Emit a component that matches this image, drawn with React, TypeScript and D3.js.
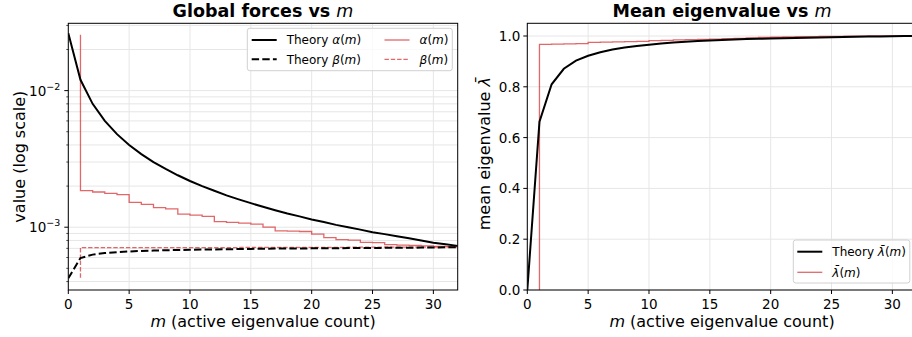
import * as d3 from "d3";
import { useEffect, useRef } from "react";

// theory curves, sampled at integer m = 0..32
const mTheory = d3.range(0, 33);
const alphaTheory = [
	0.0263, 0.012, 0.008, 0.006, 0.0048, 0.004, 0.00343, 0.003, 0.00267, 0.0024,
	0.00218, 0.002, 0.00185, 0.00171, 0.0016, 0.0015, 0.00141, 0.00133, 0.00126,
	0.0012, 0.00114, 0.00109, 0.00104, 0.001, 0.00096, 0.00092, 0.00089, 0.00086,
	0.00083, 0.0008, 0.00077, 0.00075, 0.00073,
];
const betaTheory = [
	0.000423, 0.000595, 0.00063, 0.000647, 0.000657, 0.000664, 0.00067, 0.000674,
	0.000678, 0.000681, 0.000684, 0.000686, 0.000688, 0.00069, 0.000692, 0.000694,
	0.000695, 0.000697, 0.000698, 0.000699, 0.0007, 0.000701, 0.000702, 0.000703,
	0.000704, 0.000705, 0.000706, 0.000707, 0.000708, 0.000709, 0.00071, 0.000712,
	0.000715,
];
const lambdaTheory = [
	0, 0.663, 0.81, 0.871, 0.903, 0.922, 0.936, 0.947, 0.955, 0.961, 0.966, 0.97,
	0.974, 0.977, 0.98, 0.982, 0.984, 0.986, 0.988, 0.989, 0.99, 0.991, 0.992,
	0.993, 0.994, 0.995, 0.996, 0.997, 0.998, 0.998, 0.999, 1.0, 1.0,
];

// measured (step) curves, m = 1..32, each starting with a jump at m = 1
const mEmp = d3.range(1, 33);
const alphaEmpStart = 0.0256;
const alphaEmp = [
	0.00185, 0.00181, 0.00177, 0.00173, 0.00152, 0.00147, 0.00139, 0.00136,
	0.001245, 0.001225, 0.0012, 0.0011, 0.001085, 0.00107, 0.001055, 0.001,
	0.00094, 0.000935, 0.00093, 0.000889, 0.00084, 0.00081, 0.000805, 0.000775,
	0.00077, 0.000745, 0.00074, 0.000735, 0.00073, 0.000725, 0.000722, 0.00072,
];
const betaEmpStart = 0.000427;
const betaEmp = [
	0.00071, 0.00071, 0.00071, 0.00071, 0.00071, 0.00071, 0.00071, 0.00071,
	0.00071, 0.00071, 0.00071, 0.00071, 0.00071, 0.000711, 0.000711, 0.000711,
	0.000712, 0.000712, 0.000712, 0.000713, 0.000713, 0.000713, 0.000714, 0.000714,
	0.000714, 0.000715, 0.000715, 0.000715, 0.000716, 0.000716, 0.000717, 0.000717,
];
const lambdaEmpStart = 0;
const lambdaEmp = [
	0.967, 0.968, 0.969, 0.97, 0.975, 0.976, 0.977, 0.978, 0.979, 0.982, 0.983,
	0.985, 0.986, 0.987, 0.988, 0.99, 0.991, 0.993, 0.994, 0.995, 0.996, 0.997,
	0.997, 0.998, 0.998, 0.999, 0.999, 1.0, 1.0, 1.0, 1.0, 1.0,
];

const xTicks = [0, 5, 10, 15, 20, 25, 30];
const logMajor = [1e-3, 1e-2];
const logMajorLabels = ["−3", "−2"];
const lambdaTicks = [0, 0.2, 0.4, 0.6, 0.8, 1.0];

const RED = "#d62728";
const FONT = "DejaVu Sans";

type Part = [string, boolean];

function addParts(t: any, parts: Part[]) {
	parts.forEach(([s, it]) => {
		t.append("tspan").attr("font-style", it ? "italic" : "normal").text(s);
	});
}

export default function App() {
	const ref = useRef<SVGSVGElement>(null);

	useEffect(() => {
		if (!ref.current) return;
		const svg = d3.select(ref.current);
		svg.selectAll("*").remove();
		svg.attr("font-family", FONT);

		const panels = [
			{ x0: 68.3, x1: 457.7, y0: 23.3, y1: 290, id: "L" },
			{ x0: 527.3, x1: 916.7, y0: 23.3, y1: 290, id: "R" },
		];

		panels.forEach((p) => {
			svg.append("clipPath").attr("id", "clip" + p.id)
				.append("rect")
				.attr("x", p.x0).attr("y", p.y0)
				.attr("width", p.x1 - p.x0).attr("height", p.y1 - p.y0);
		});

		// ---------- left panel ----------
		const L = panels[0];
		const xL = d3.scaleLinear().domain([0, 32]).range([L.x0, L.x1]);
		const yL = d3.scaleLog().domain([3.47e-4, 0.0311]).range([L.y1, L.y0]);
		const gridColor = "#e6e6e6";

		const gL = svg.append("g");
		const allLogTicks = yL.ticks();
		gL.selectAll(".hgrid").data(allLogTicks).enter().append("line")
			.attr("x1", L.x0).attr("x2", L.x1)
			.attr("y1", (d) => yL(d)).attr("y2", (d) => yL(d))
			.attr("stroke", gridColor).attr("stroke-width", 1);
		gL.selectAll(".vgrid").data(xTicks).enter().append("line")
			.attr("x1", (d) => xL(d)).attr("x2", (d) => xL(d))
			.attr("y1", L.y0).attr("y2", L.y1)
			.attr("stroke", gridColor).attr("stroke-width", 1);

		const plotL = gL.append("g").attr("clip-path", "url(#clipL)");

		const lineTheory = d3.line<[number, number]>()
			.x((d) => xL(d[0])).y((d) => yL(d[1]));
		const lineStep = d3.line<[number, number]>()
			.x((d) => xL(d[0])).y((d) => yL(d[1]))
			.curve(d3.curveStepAfter);

		const alphaEmpPts: [number, number][] = [[1, alphaEmpStart], ...mEmp.map((m, i) => [m, alphaEmp[i]] as [number, number])];
		const betaEmpPts: [number, number][] = [[1, betaEmpStart], ...mEmp.map((m, i) => [m, betaEmp[i]] as [number, number])];

		plotL.append("path").attr("d", lineStep(alphaEmpPts))
			.attr("fill", "none").attr("stroke", RED).attr("stroke-opacity", 0.7)
			.attr("stroke-width", 1.3);
		plotL.append("path").attr("d", lineStep(betaEmpPts))
			.attr("fill", "none").attr("stroke", RED).attr("stroke-opacity", 0.7)
			.attr("stroke-width", 1.3).attr("stroke-dasharray", "4.4,1.9");

		plotL.append("path")
			.attr("d", lineTheory(mTheory.map((m, i) => [m, alphaTheory[i]] as [number, number])))
			.attr("fill", "none").attr("stroke", "#000").attr("stroke-width", 2);
		plotL.append("path")
			.attr("d", lineTheory(mTheory.map((m, i) => [m, betaTheory[i]] as [number, number])))
			.attr("fill", "none").attr("stroke", "#000").attr("stroke-width", 2)
			.attr("stroke-dasharray", "7.4,3.2");

		// ---------- right panel ----------
		const R = panels[1];
		const xR = d3.scaleLinear().domain([0, 32]).range([R.x0, R.x1]);
		const yR = d3.scaleLinear().domain([0, 1.05]).range([R.y1, R.y0]);

		const gR = svg.append("g");
		gR.selectAll(".hgrid").data(lambdaTicks).enter().append("line")
			.attr("x1", R.x0).attr("x2", R.x1)
			.attr("y1", (d) => yR(d)).attr("y2", (d) => yR(d))
			.attr("stroke", gridColor).attr("stroke-width", 1);
		gR.selectAll(".vgrid").data(xTicks).enter().append("line")
			.attr("x1", (d) => xR(d)).attr("x2", (d) => xR(d))
			.attr("y1", R.y0).attr("y2", R.y1)
			.attr("stroke", gridColor).attr("stroke-width", 1);

		const plotR = gR.append("g").attr("clip-path", "url(#clipR)");
		const lineR = d3.line<[number, number]>()
			.x((d) => xR(d[0])).y((d) => yR(d[1]));
		const stepR = d3.line<[number, number]>()
			.x((d) => xR(d[0])).y((d) => yR(d[1]))
			.curve(d3.curveStepAfter);

		const lambdaEmpPts: [number, number][] = [[1, lambdaEmpStart], ...mEmp.map((m, i) => [m, lambdaEmp[i]] as [number, number])];
		plotR.append("path").attr("d", stepR(lambdaEmpPts))
			.attr("fill", "none").attr("stroke", RED).attr("stroke-opacity", 0.7)
			.attr("stroke-width", 1.3);
		plotR.append("path")
			.attr("d", lineR(mTheory.map((m, i) => [m, lambdaTheory[i]] as [number, number])))
			.attr("fill", "none").attr("stroke", "#000").attr("stroke-width", 2);

		// ---------- spines, ticks, labels ----------
		panels.forEach((p, pi) => {
			const x = pi === 0 ? xL : xR;
			const g = svg.append("g");
			g.append("rect")
				.attr("x", p.x0).attr("y", p.y0)
				.attr("width", p.x1 - p.x0).attr("height", p.y1 - p.y0)
				.attr("fill", "none").attr("stroke", "#000").attr("stroke-width", 1);

			xTicks.forEach((t) => {
				g.append("line")
					.attr("x1", x(t)).attr("x2", x(t))
					.attr("y1", p.y1).attr("y2", p.y1 + 4)
					.attr("stroke", "#000").attr("stroke-width", 1);
				g.append("text")
					.attr("x", x(t)).attr("y", p.y1 + 18.5)
					.attr("text-anchor", "middle").attr("font-size", 13.5)
					.attr("fill", "#000")
					.text(t);
			});

			const xl = g.append("text")
				.attr("x", (p.x0 + p.x1) / 2).attr("y", 327)
				.attr("text-anchor", "middle").attr("font-size", 16).attr("fill", "#000");
			addParts(xl, [["m", true], [" (active eigenvalue count)", false]]);
		});

		// left y ticks
		allLogTicks.forEach((t) => {
			const major = logMajor.some((v) => Math.abs(v - t) / v < 1e-6);
			svg.append("line")
				.attr("x1", L.x0 - (major ? 4 : 2)).attr("x2", L.x0)
				.attr("y1", yL(t)).attr("y2", yL(t))
				.attr("stroke", "#000").attr("stroke-width", major ? 1 : 0.7);
		});
		logMajor.forEach((t, i) => {
			const tx = svg.append("text")
				.attr("x", L.x0 - 8).attr("y", yL(t) + 5)
				.attr("text-anchor", "end").attr("font-size", 13.5).attr("fill", "#000");
			tx.append("tspan").text("10");
			tx.append("tspan").attr("dy", -6).attr("font-size", 9.5).text(logMajorLabels[i]);
		});
		svg.append("text")
			.attr("transform", `translate(25,${(L.y0 + L.y1) / 2}) rotate(-90)`)
			.attr("text-anchor", "middle").attr("font-size", 16).attr("fill", "#000")
			.text("value (log scale)");

		// right y ticks
		lambdaTicks.forEach((t) => {
			svg.append("line")
				.attr("x1", R.x0 - 4).attr("x2", R.x0)
				.attr("y1", yR(t)).attr("y2", yR(t))
				.attr("stroke", "#000").attr("stroke-width", 1);
			svg.append("text")
				.attr("x", R.x0 - 7).attr("y", yR(t) + 5)
				.attr("text-anchor", "end").attr("font-size", 13.5).attr("fill", "#000")
				.text(t.toFixed(1));
		});
		const yRl = svg.append("text")
			.attr("transform", `translate(490,${(R.y0 + R.y1) / 2 - 3}) rotate(-90)`)
			.attr("text-anchor", "middle").attr("font-size", 16).attr("fill", "#000");
		addParts(yRl, [["mean eigenvalue ", false], ["λ\u0304", true]]);

		// titles
		const titles: { cx: number; text: string }[] = [
			{ cx: (L.x0 + L.x1) / 2, text: "Global forces vs " },
			{ cx: (R.x0 + R.x1) / 2, text: "Mean eigenvalue vs " },
		];
		titles.forEach((tt) => {
			const t = svg.append("text")
				.attr("x", tt.cx).attr("y", 17)
				.attr("text-anchor", "middle").attr("font-size", 17.5).attr("fill", "#000");
			t.append("tspan").attr("font-weight", "bold").text(tt.text);
			t.append("tspan").attr("font-style", "italic").text("m");
		});

		// ---------- legends ----------
		const drawLegend = (
			box: { x: number; y: number; w: number; h: number },
			items: { x: number; y: number; color: string; width: number; dash: string | null; opacity: number; label: Part[] }[],
		) => {
			svg.append("rect")
				.attr("x", box.x).attr("y", box.y).attr("width", box.w).attr("height", box.h)
				.attr("rx", 2.5).attr("fill", "#fff").attr("fill-opacity", 0.8)
				.attr("stroke", "#d0d0d0").attr("stroke-width", 1);
			items.forEach((it) => {
				const ln = svg.append("line")
					.attr("x1", it.x).attr("x2", it.x + 25)
					.attr("y1", it.y).attr("y2", it.y)
					.attr("stroke", it.color).attr("stroke-width", it.width)
					.attr("stroke-opacity", it.opacity);
				if (it.dash) ln.attr("stroke-dasharray", it.dash);
				const tx = svg.append("text")
					.attr("x", it.x + 35).attr("y", it.y + 4.3)
					.attr("font-size", 12).attr("fill", "#000");
				addParts(tx, it.label);
			});
		};

		drawLegend({ x: 247.3, y: 28.3, w: 205, h: 42.4 }, [
			{ x: 251.7, y: 40, color: "#000", width: 2, dash: null, opacity: 1, label: [["Theory ", false], ["α", true], ["(", false], ["m", true], [")", false]] },
			{ x: 251.7, y: 59.3, color: "#000", width: 2, dash: "7.4,3.2", opacity: 1, label: [["Theory ", false], ["β", true], ["(", false], ["m", true], [")", false]] },
			{ x: 384.5, y: 40, color: RED, width: 1.3, dash: null, opacity: 0.7, label: [["α", true], ["(", false], ["m", true], [")", false]] },
			{ x: 384.5, y: 59.3, color: RED, width: 1.3, dash: "4.4,1.9", opacity: 0.7, label: [["β", true], ["(", false], ["m", true], [")", false]] },
		]);
		drawLegend({ x: 793.3, y: 240, w: 116.5, h: 43 }, [
			{ x: 797.3, y: 251.7, color: "#000", width: 2, dash: null, opacity: 1, label: [["Theory ", false], ["λ\u0304", true], ["(", false], ["m", true], [")", false]] },
			{ x: 797.3, y: 272.3, color: RED, width: 1.3, dash: null, opacity: 0.7, label: [["λ\u0304", true], ["(", false], ["m", true], [")", false]] },
		]);
	}, []);

	return (
		<svg
			ref={ref}
			width={912}
			height={337}
			style={{ position: "absolute", left: 0, top: 0, background: "#fff" }}
		/>
	);
}
